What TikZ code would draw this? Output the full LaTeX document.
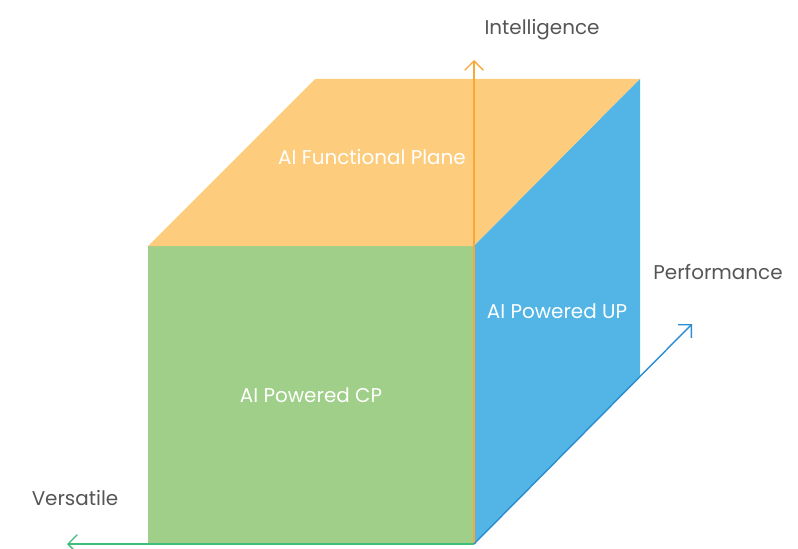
\documentclass[tikz,border=0pt]{standalone}
\usepackage{fontspec}
\setmainfont{Poppins}
\usetikzlibrary{arrows.meta,calc}
\usepackage{tkz-euclide}
\definecolor{TopClr}{HTML}{FDCD7D}
\definecolor{FrontClr}{HTML}{9FCF88}
\definecolor{SideClr}{HTML}{52B5E6}
\definecolor{IntClr}{HTML}{F6A936}
\definecolor{VerClr}{HTML}{3FBF7C}
\definecolor{PerClr}{HTML}{2A8DD1}
\definecolor{TxtClr}{HTML}{555555}

\begin{document}
\begin{tikzpicture}[axisline/.style={line width=1.2pt,-{Straight Barb[length=8pt,width=16pt]}},
  facelabel/.style={text=white,font=\fontsize{17}{19}\selectfont},
  axislabel/.style={text=TxtClr,font=\fontsize{17}{19}\selectfont}]
\useasboundingbox (0,0) rectangle (23.94,16.44);

\tkzDefPoints{4.44/0.12/A,14.22/0.12/B,14.22/9.06/C,4.44/9.06/D,9.45/14.07/E,19.20/14.07/F,19.20/5.13/G}
\tkzDefPoints{14.22/14.64/I,2.01/0.12/V,20.76/6.72/P}

\tkzFillPolygon[fill=FrontClr](A,B,C,D)
\tkzFillPolygon[fill=TopClr](D,C,F,E)
\tkzFillPolygon[fill=SideClr](B,G,F,C)

\draw[axisline,IntClr] (B) -- (I);
\draw[axisline,VerClr] (B) -- (V);
\draw[axisline,PerClr] (B) -- (P);

\node[facelabel] (top) at (11.16,11.72) {AI Functional Plane};
\node[facelabel] (side) at (16.71,7.10) {AI Powered UP};
\node[facelabel] (front) at (9.33,4.58) {AI Powered CP};

\node[axislabel] (int) at (16.26,15.55) {Intelligence};
\node[axislabel] (ver) at (2.25,1.50) {Versatile};
\node[axislabel] (per) at (21.54,8.27) {Performance};

\end{tikzpicture}
\end{document}
